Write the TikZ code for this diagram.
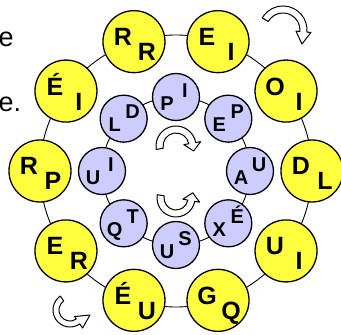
\documentclass[tikz,border=0pt]{standalone}
\usepackage{fontspec}
\setmainfont{Liberation Sans}
\definecolor{ringyellow}{RGB}{255,255,64}
\definecolor{ringblue}{RGB}{204,204,255}
\begin{document}
\begin{tikzpicture}[x=1pt,y=1pt,
    outer/.style={circle,draw,line width=1.3pt,fill=ringyellow,minimum size=62pt,inner sep=0pt},
    inner/.style={circle,draw,line width=1.3pt,fill=ringblue,minimum size=47pt,inner sep=0pt},
    bigletter/.style={font=\bfseries\fontsize{25}{25}\selectfont,inner sep=0pt,anchor=base},
    smallletter/.style={font=\bfseries\fontsize{20}{20}\selectfont,inner sep=0pt,anchor=base},
    turn/.style={draw,fill=white,line width=1pt,line join=round}]
    \useasboundingbox (-176,-164) rectangle (165,171);
    % cut-off text at the left edge
    \node[font=\fontsize{27}{27}\selectfont,anchor=base west,inner sep=0pt] (texta) at (-177.5,124.5) {e};
    \node[font=\fontsize{27}{27}\selectfont,anchor=base west,inner sep=0pt] (textb) at (-177.5,59.5) {e.};
    % the two rings
    \draw[line width=0.9pt] (0,0) circle (136pt);
    \draw[line width=0.9pt] (0,0) circle (74pt);
    % outer ring
    \foreach \n/\a/\p/\q in {rr/108/R/R, ei/72/E/I, oi/36/O/I, dl/0/D/L, uo/-36/U/I,
        gq/-72/G/Q, eu/-108/É/U, er/-144/E/R, rp/180/R/P, eo/144/É/I} {
        \node[outer] (\n) at (\a:136) {};
        \node[bigletter] (\n-a) at ([shift={(-11,-4)}]\n) {\p};
        \node[bigletter] (\n-b) at ([shift={(13,-19)}]\n) {\q};
    }
    % inner ring
    \foreach \n/\a/\p/\q in {pi/90/P/I, ep/45/E/P, au/0/A/U, xe/-45/X/É,
        us/-90/U/S, qt/-135/Q/T, ui/180/U/I, ld/135/L/D} {
        \node[inner] (\n) at (\a:74) {};
        \node[smallletter] (\n-a) at ([shift={(-9,-13.2)}]\n) {\p};
        \node[smallletter] (\n-b) at ([shift={(9,-0.2)}]\n) {\q};
    }
    % turning arrows
    \begin{scope}[shift={(107,141)}]
        \draw[turn] (150:17) arc (150:-5:17) -- (-5:13) -- (19,-14) -- (-5:28) -- (-5:24) arc (-5:150:24) -- cycle;
    \end{scope}
    \begin{scope}[shift={(-106,-139)}]
        \draw[turn] (125:11) arc (125:305:11) -- (305:8) -- (20,-5) -- (305:22) -- (305:17) arc (305:125:17) -- cycle;
    \end{scope}
    \begin{scope}[shift={(0,25)}]
        \draw[turn] (190:13) arc (190:10:13) -- (10:8) -- (17.6,-5) -- (10:25) -- (10:20) arc (10:190:20) -- cycle;
    \end{scope}
    \begin{scope}[shift={(0,-27)}]
        \draw[turn] (170:12) arc (170:350:12) -- (350:7) -- (16.7,5.2) -- (350:24) -- (350:19) arc (350:170:19) -- cycle;
    \end{scope}
\end{tikzpicture}
\end{document}
